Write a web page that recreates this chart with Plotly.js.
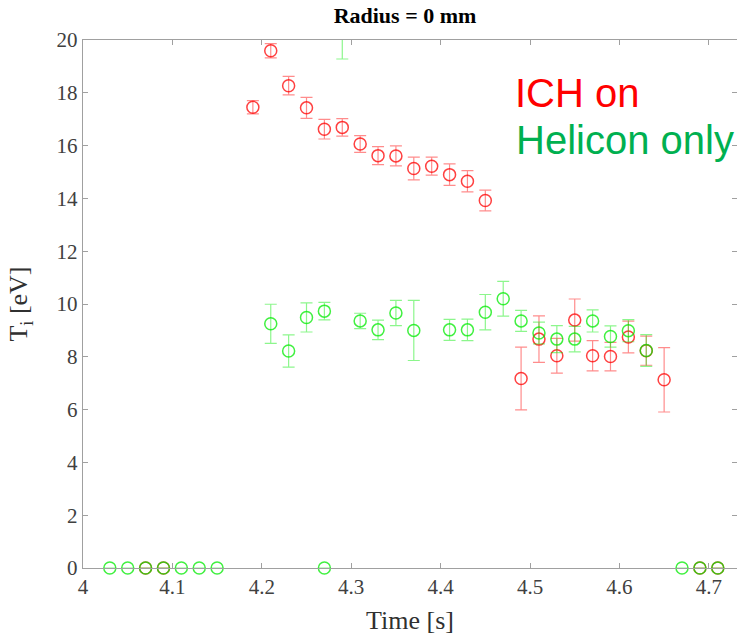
<!DOCTYPE html>
<html>
<head>
<meta charset="utf-8">
<script src="https://cdn.plot.ly/plotly-3.0.1.min.js"></script>
<style>html,body{margin:0;padding:0;background:#fff;}#chart{width:737px;height:636px;}</style>
</head>
<body>
<div id="chart"></div>
<script>
// ICH on (red)
const timeICH = [4.07, 4.09, 4.19, 4.21, 4.23, 4.25, 4.27, 4.29, 4.31, 4.33, 4.35, 4.37, 4.39, 4.41, 4.43, 4.45,
                 4.49, 4.51, 4.53, 4.55, 4.57, 4.59, 4.61, 4.63, 4.65, 4.69, 4.71];
const tiICH   = [0, 0, 17.45, 19.59, 18.27, 17.43, 16.62, 16.69, 16.06, 15.62, 15.61, 15.13, 15.22, 14.90, 14.65, 13.92,
                 7.18, 8.67, 8.04, 9.39, 8.04, 8.01, 8.75, 8.23, 7.13, 0, 0];
const errICH  = [null, null, 0.25, 0.27, 0.35, 0.40, 0.37, 0.33, 0.32, 0.34, 0.38, 0.43, 0.34, 0.41, 0.40, 0.39,
                 1.19, 0.88, 0.66, 0.80, 0.57, 0.54, 0.60, 0.55, 1.22, null, null];

// Helicon only (green)
const timeHel = [4.03, 4.05, 4.07, 4.09, 4.11, 4.13, 4.15, 4.21, 4.23, 4.25, 4.27, 4.27, 4.29, 4.31, 4.33, 4.35, 4.37,
                 4.41, 4.43, 4.45, 4.47, 4.49, 4.51, 4.53, 4.55, 4.57, 4.59, 4.61, 4.63, 4.67, 4.69, 4.71];
const tiHel   = [0, 0, 0, 0, 0, 0, 0, 9.25, 8.22, 9.49, 9.73, 0, 20.6, 9.36, 9.02, 9.66, 9.00,
                 9.02, 9.02, 9.69, 10.20, 9.36, 8.90, 8.67, 8.67, 9.36, 8.77, 8.99, 8.24, 0, 0, 0];
const errHel  = [null, null, null, null, null, null, null, 0.74, 0.61, 0.55, 0.33, null, 1.32, 0.29, 0.37, 0.48, 1.14,
                 0.40, 0.41, 0.67, 0.66, 0.40, 0.41, 0.51, 0.48, 0.42, 0.40, 0.42, 0.60, null, null, null];

const xTicks = [4, 4.1, 4.2, 4.3, 4.4, 4.5, 4.6, 4.7];
const yTicks = [0, 2, 4, 6, 8, 10, 12, 14, 16, 18, 20];
const yMax = 20;

const RED = 'rgba(255,0,0,0.75)', RED_E = 'rgba(255,0,0,0.45)';
const GRN = 'rgba(0,235,0,0.75)', GRN_E = 'rgba(0,235,0,0.45)';

function split(t, v, e, inside) {
  const o = {x: [], y: [], e: []};
  t.forEach((tt, i) => {
    if ((v[i] <= yMax) === inside) { o.x.push(tt); o.y.push(v[i]); o.e.push(e[i]); }
  });
  return o;
}
function mk(d, col, ecol, clip) {
  return {
    x: d.x, y: d.y, type: 'scatter', mode: 'markers', cliponaxis: clip, showlegend: false,
    marker: {symbol: 'circle-open', size: 12, color: col, line: {width: 1.5, color: col}},
    error_y: {type: 'data', array: d.e, visible: true, color: ecol, thickness: 1.2, width: 6}
  };
}
const traces = [
  mk(split(timeICH, tiICH, errICH, true), RED, RED_E, false),
  mk(split(timeICH, tiICH, errICH, false), RED, RED_E, true),
  mk(split(timeHel, tiHel, errHel, true), GRN, GRN_E, false),
  mk(split(timeHel, tiHel, errHel, false), GRN, GRN_E, true)
];

const serif = 'Liberation Serif, Times New Roman, serif';
const sans = 'Liberation Sans, Arial, sans-serif';
const axCommon = {
  showgrid: false, zeroline: false, showline: true, linecolor: '#a0a0a0', linewidth: 1.2,
  ticks: 'inside', ticklen: 5, tickcolor: '#a0a0a0', mirror: 'ticks',
  tickfont: {family: serif, size: 21, color: '#404040'}
};
const layout = {
  width: 737, height: 636,
  margin: {l: 83, r: 0, t: 40, b: 68},
  paper_bgcolor: '#fff', plot_bgcolor: '#fff',
  title: {text: '<b>Radius = 0 mm</b>', font: {family: serif, size: 22, color: '#000'},
          x: 405/737, xref: 'container', xanchor: 'center', y: 1 - 15/636, yref: 'container', yanchor: 'middle'},
  xaxis: Object.assign({}, axCommon, {range: [4, 4.7315], tickvals: xTicks, ticktext: xTicks.map(String),
    title: {text: 'Time [s]', font: {family: serif, size: 26, color: '#303030'}, standoff: 12}}),
  yaxis: Object.assign({}, axCommon, {range: [0, yMax], tickvals: yTicks, ticktext: yTicks.map(String),
    title: {text: 'T<sub>i</sub> [eV]', font: {family: serif, size: 26, color: '#303030'}, standoff: 21}}),
  annotations: [
    {text: 'ICH on', xref: 'paper', yref: 'paper', x: (513-83)/654, y: (568-93)/528, xanchor: 'left', yanchor: 'middle',
     showarrow: false, font: {family: sans, size: 40, color: '#ff0000'}},
    {text: 'Helicon only', xref: 'paper', yref: 'paper', x: (514-83)/654, y: (568-140)/528, xanchor: 'left', yanchor: 'middle',
     showarrow: false, font: {family: sans, size: 40, color: '#00b050'}}
  ]
};
Plotly.newPlot('chart', traces, layout, {displayModeBar: false, staticPlot: true});
</script>
</body>
</html>
